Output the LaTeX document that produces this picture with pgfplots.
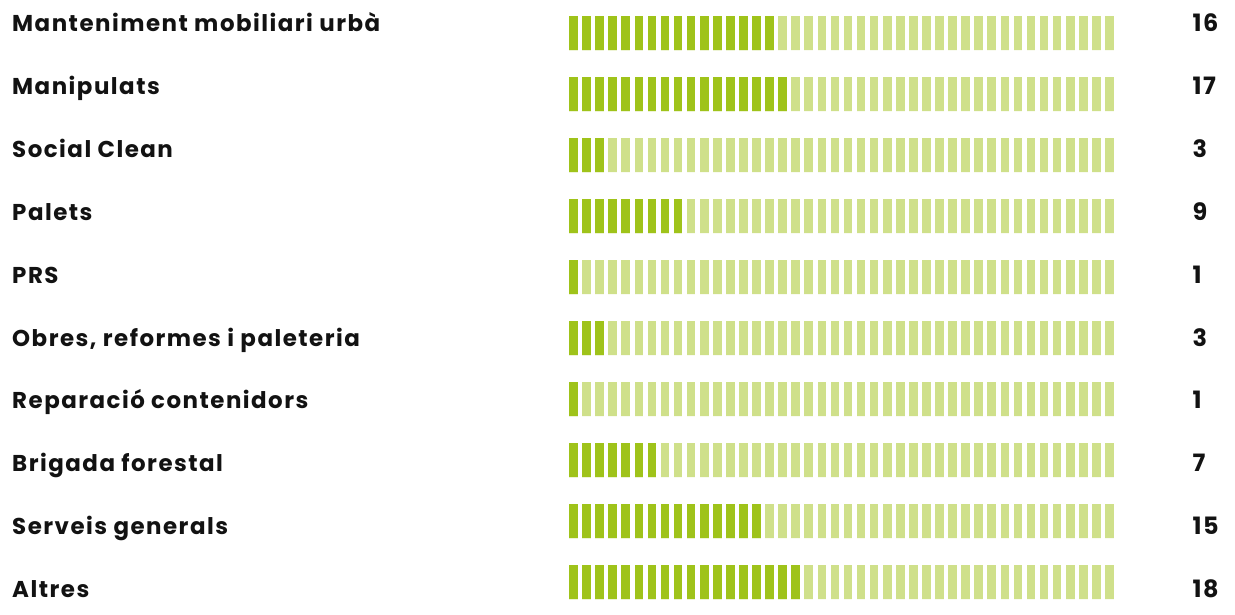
\documentclass[border=0pt]{standalone}
\usepackage{pgfplots}
\pgfplotsset{compat=1.18}
\usepackage{pgfplotstable}
\usepackage{fontspec}
\setmainfont{Poppins}
\newfontfamily\lblfont[LetterSpace=6.5]{Poppins}
\definecolor{darkg}{HTML}{9FC31A}
\definecolor{lightg}{HTML}{CFE08A}

\pgfplotstableread{
row y value base
1 31 16 29
2 92 17 92
3 153 3 155
4 214 9 218
5 275 1 281
6 336 3 344
7 397 1 406
8 458 7 469
9 519 15 532
10 580 18 595
}\data

\begin{document}
\begin{tikzpicture}
\begin{axis}[
 width=1235bp, height=604bp, scale only axis,
 xmin=-43.38, xmax=51.11, ymin=0, ymax=604, y dir=reverse,
 xbar, bar shift=0pt, bar width=34bp,
 axis line style={draw=none}, tick style={draw=none},
 xtick={0,...,42}, xticklabels={}, ytick=\empty,
 xmajorgrids, grid style={white, line width=4.4bp},
 axis on top, clip=false,
 /pgf/number format/assume math mode=true,
]
\addplot[fill=lightg, draw=none] table[x expr=42, y=y]{\data};
\addplot[fill=darkg, draw=none] table[x=value, y=y]{\data};
\addplot[draw=none, fill=none, nodes near coords, point meta=explicit,
  nodes near coords style={anchor=base west, inner sep=0pt, text=black!93,
  font=\lblfont\bfseries\fontsize{24}{24}\selectfont}]
  table[x expr=47.85, y=base, meta=value]{\data};
\begin{scope}[every node/.style={anchor=base west, inner sep=0pt, text=black!93, font=\lblfont\bfseries\fontsize{23}{23}\selectfont}]
\node at (axis cs:-42.46,29) {Manteniment mobiliari urbà};
\node at (axis cs:-42.46,92) {Manipulats};
\node at (axis cs:-42.46,155) {Social Clean};
\node at (axis cs:-42.46,218) {Palets};
\node at (axis cs:-42.46,281) {PRS};
\node at (axis cs:-42.46,344) {Obres, reformes i paleteria};
\node at (axis cs:-42.46,406) {Reparació contenidors};
\node at (axis cs:-42.46,469) {Brigada forestal};
\node at (axis cs:-42.46,532) {Serveis generals};
\node at (axis cs:-42.46,595) {Altres};
\end{scope}
\end{axis}
\end{tikzpicture}
\end{document}
